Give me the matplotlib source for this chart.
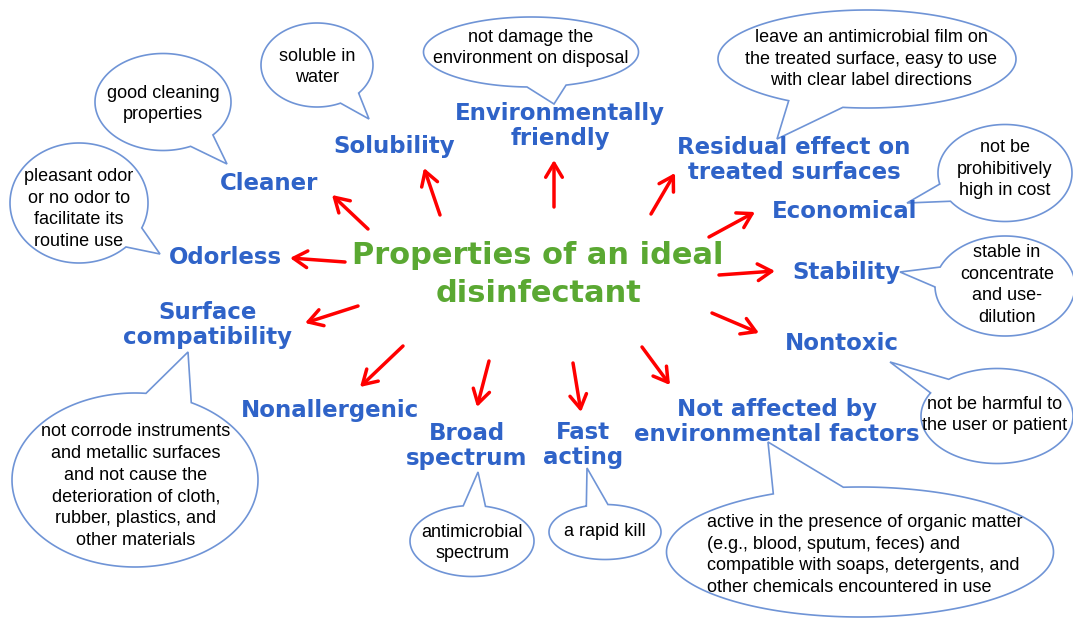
import numpy as np
import matplotlib.pyplot as plt
from matplotlib.patches import Polygon

# 中心标题
title_lines = ["Properties of an ideal", "disinfectant"]

# 性质名称
props = ["Cleaner", "Solubility", "Environmentally\nfriendly",
         "Residual effect on\ntreated surfaces", "Odorless", "Economical",
         "Stability", "Surface\ncompatibility", "Nontoxic", "Nonallergenic",
         "Broad\nspectrum", "Fast\nacting", "Not affected by\nenvironmental factors"]

# 说明气泡文字 (None = 无气泡)
descs = ["good cleaning\nproperties",
         "soluble in\nwater",
         "not damage the\nenvironment on disposal",
         "leave an antimicrobial film on\nthe treated surface, easy to use\nwith clear label directions",
         "pleasant odor\nor no odor to\nfacilitate its\nroutine use",
         "not be\nprohibitively\nhigh in cost",
         "stable in\nconcentrate\nand use-\ndilution",
         "not corrode instruments\nand metallic surfaces\nand not cause the\ndeterioration of cloth,\nrubber, plastics, and\nother materials",
         "not be harmful to\nthe user or patient",
         None,
         "antimicrobial\nspectrum",
         "a rapid kill",
         "active in the presence of organic matter\n(e.g., blood, sputum, feces) and\ncompatible with soaps, detergents, and\nother chemicals encountered in use"]

# ---- 布局 (像素坐标, y 向下) ----
label_xy = [(269, 184), (394, 147), (560, 126), (794, 160), (225, 258), (845, 211),
            (846, 273), (208, 325), (842, 343), (330, 410), (467, 446), (583, 445),
            (777, 422)]
arrow_tail = [(368, 229), (440, 215), (554, 207), (651, 214), (345, 262), (709, 237),
              (719, 275), (358, 306), (712, 313), (403, 346), (489, 361), (573, 363),
              (642, 347)]
arrow_head = [(332, 195), (424, 168), (554, 160), (675, 173), (290, 258), (755, 212),
              (775, 271), (305, 323), (759, 333), (360, 387), (477, 407), (581, 412),
              (670, 385)]
# 气泡: 中心, 宽, 高, 尾部根1, 根2, 尖
bub_geom = [((163, 102), 136, 97, (213, 135), (191, 147), (227, 164)),
            ((317, 65), 112, 84, (360, 94), (341, 104), (369, 119)),
            ((531, 52), 215, 70, (566, 85), (527, 87), (554, 104)),
            ((867, 59), 298, 98, (790, 100), (843, 107), (777, 139)),
            ((79, 203), 138, 120, (142, 228), (126, 247), (160, 254)),
            ((1005, 173), 134, 97, (940, 184), (951, 201), (907, 203)),
            ((1005, 286), 140, 100, (940, 267), (933, 287), (900, 272)),
            ((135, 480), 246, 174, (146, 393), (191, 403), (188, 352)),
            ((997, 416), 152, 95, (947, 378), (928, 392), (890, 362)),
            None,
            ((472, 541), 124, 71, (463, 505), (486, 505), (478, 472)),
            ((605, 532), 112, 55, (587, 507), (608, 504), (587, 468)),
            ((860, 552), 387, 130, (772, 493), (843, 486), (768, 442))]
desc_xy = [(163, 104), (317, 67), (531, 48), (871, 59), (79, 209), (1005, 169),
           (1007, 285), (136, 486), (995, 415), None, (472, 543), (605, 532),
           (707, 555)]

blue = '#2f63c8'
green = '#5aa832'
edge = '#6f94d6'


def bubble(ax, c, w, h, b1, b2, tip):
    cx, cy = c
    a, b = w / 2, h / 2
    t1 = np.arctan2((b1[1] - cy) / b, (b1[0] - cx) / a)
    t2 = np.arctan2((b2[1] - cy) / b, (b2[0] - cx) / a)
    d = (t2 - t1) % (2 * np.pi)
    if d > np.pi:
        t1, t2 = t2, t1
        d = 2 * np.pi - d
    ts = np.linspace(t2, t2 + 2 * np.pi - d, 300)
    pts = np.column_stack([cx + a * np.cos(ts), cy + b * np.sin(ts)])
    pts = np.vstack([pts, tip])
    ax.add_patch(Polygon(pts, closed=True, facecolor='white', edgecolor=edge,
                         linewidth=1.2, zorder=1))


fig = plt.figure(figsize=(10.73, 6.2), dpi=100)
ax = fig.add_axes([0, 0, 1, 1])
ax.set_xlim(0, 1073)
ax.set_ylim(620, 0)
ax.axis('off')

for i in range(len(props)):
    # 箭头
    ax.annotate('', xy=arrow_head[i], xytext=arrow_tail[i],
                arrowprops=dict(arrowstyle='->,head_length=0.5,head_width=0.3',
                                color='red', lw=2.5, shrinkA=0, shrinkB=0,
                                mutation_scale=20), zorder=3)
    # 标签
    ax.text(label_xy[i][0], label_xy[i][1], props[i], color=blue, fontsize=16.5,
            fontweight='bold', family='DejaVu Sans', ha='center', va='center',
            multialignment='center', linespacing=1.13, zorder=4)
    # 气泡
    if descs[i] is not None:
        g = bub_geom[i]
        bubble(ax, g[0], g[1], g[2], g[3], g[4], g[5])
        if i == len(props) - 1:
            ax.text(desc_xy[i][0], desc_xy[i][1], descs[i], fontsize=13,
                    family='Liberation Sans', ha='left', va='center',
                    multialignment='left', linespacing=1.38, zorder=2)
        else:
            ax.text(desc_xy[i][0], desc_xy[i][1], descs[i], fontsize=13,
                    family='Liberation Sans', ha='center', va='center',
                    multialignment='center', linespacing=1.38, zorder=2)

# 中心标题
ax.text(538, 255, title_lines[0], color=green, fontsize=22, fontweight='bold',
        family='DejaVu Sans', ha='center', va='center', zorder=4)
ax.text(539, 293, title_lines[1], color=green, fontsize=22, fontweight='bold',
        family='DejaVu Sans', ha='center', va='center', zorder=4)

fig.savefig('out.png', dpi=100)
